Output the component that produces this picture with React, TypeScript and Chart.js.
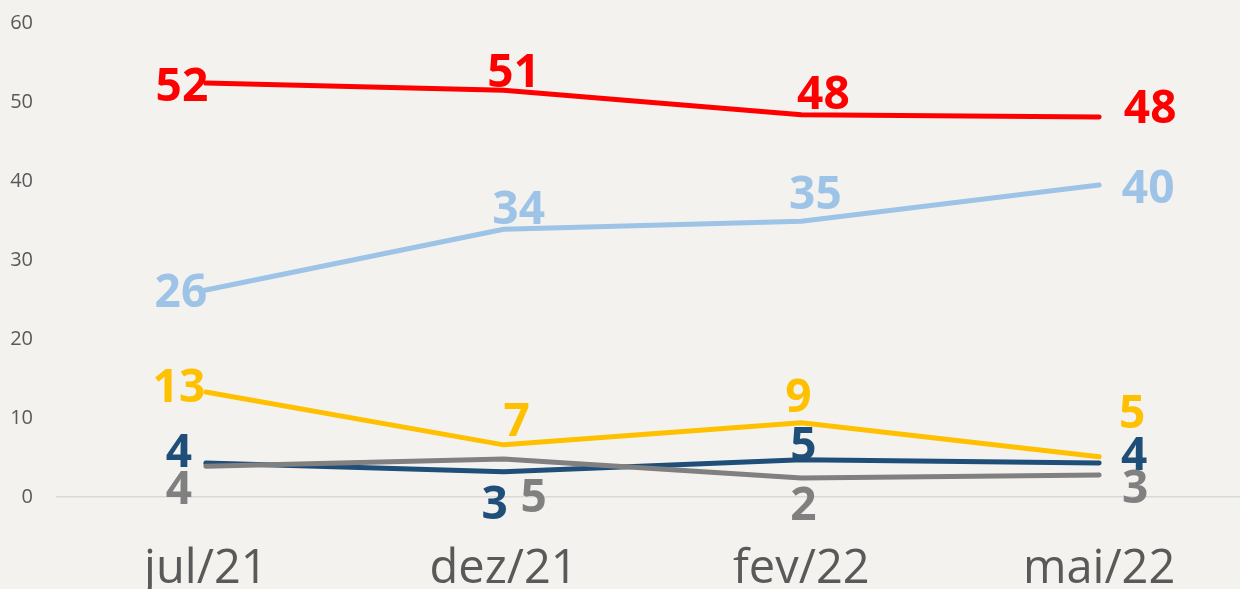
import React, { useEffect, useRef } from "react";
import { Chart, registerables } from "chart.js";
Chart.register(...registerables);

// ---- data ----
const categories = ["jul/21", "dez/21", "fev/22", "mai/22"];
const yTickValues = [0, 10, 20, 30, 40, 50, 60];

const redValues = [52.4, 51.5, 48.4, 48.1];
const redLabels = ["52", "51", "48", "48"];
const lightBlueValues = [26.2, 33.9, 34.9, 39.5];
const lightBlueLabels = ["26", "34", "35", "40"];
const yellowValues = [13.3, 6.6, 9.4, 5.1];
const yellowLabels = ["13", "7", "9", "5"];
const darkBlueValues = [4.3, 3.2, 4.7, 4.3];
const darkBlueLabels = ["4", "3", "5", "4"];
const grayValues = [3.9, 4.8, 2.4, 2.8];
const grayLabels = ["4", "5", "2", "3"];

// ---- styles ----
const COLORS = {
  red: "#FF0000",
  lightBlue: "#9DC3E6",
  yellow: "#FFC000",
  darkBlue: "#1F4E79",
  gray: "#808080",
};
// label centre offsets from the point (px)
const OFFSETS: Record<string, number[][]> = {
  red: [[-24, 2], [10, -20], [22, -22], [51, -10]],
  lightBlue: [[-25, 1], [15, -22], [14, -29], [49, 2]],
  yellow: [[-27, -6], [13, -25], [-3, -27], [33, -45]],
  darkBlue: [[-27, -12], [-9, 31], [2, -16], [35, -9]],
  gray: [[-27, 21], [30, 36], [2, 26], [36, 12]],
};
const LABEL_FONT_SIZE = 46;
const FONT = "'Open Sans', 'Noto Sans', sans-serif";

const seriesDefs = [
  { key: "red", values: redValues, labels: redLabels, order: 5 },
  { key: "lightBlue", values: lightBlueValues, labels: lightBlueLabels, order: 4 },
  { key: "yellow", values: yellowValues, labels: yellowLabels, order: 3 },
  { key: "darkBlue", values: darkBlueValues, labels: darkBlueLabels, order: 2 },
  { key: "gray", values: grayValues, labels: grayLabels, order: 1 },
];

const labelPlugin = {
  id: "valueLabels",
  afterDatasetsDraw(chart: any) {
    const ctx = chart.ctx;
    ctx.save();
    ctx.font = `bold ${LABEL_FONT_SIZE}px ${FONT}`;
    ctx.textAlign = "center";
    ctx.textBaseline = "alphabetic";
    chart.data.datasets.forEach((ds: any, i: number) => {
      const meta = chart.getDatasetMeta(i);
      const offs = OFFSETS[ds.seriesKey];
      ctx.fillStyle = ds.borderColor;
      meta.data.forEach((el: any, j: number) => {
        const [dx, dy] = offs[j];
        ctx.fillText(ds.valueLabels[j], el.x + dx, el.y + dy + LABEL_FONT_SIZE * 0.357);
      });
    });
    ctx.restore();
  },
};

export default function App() {
  const ref = useRef<HTMLCanvasElement>(null);
  useEffect(() => {
    if (!ref.current) return;
    const chart = new Chart(ref.current, {
      type: "line",
      data: {
        labels: categories,
        datasets: seriesDefs.map((s) => ({
          label: s.key,
          data: s.values,
          borderColor: (COLORS as any)[s.key],
          backgroundColor: (COLORS as any)[s.key],
          borderWidth: 5,
          borderCapStyle: "round",
          borderJoinStyle: "round",
          pointRadius: 0,
          pointHoverRadius: 0,
          tension: 0,
          order: s.order,
          seriesKey: s.key,
          valueLabels: s.labels,
        })) as any,
      },
      options: {
        animation: false,
        responsive: false,
        events: [],
        layout: { padding: { top: 23, right: 2, left: 0, bottom: 0 } },
        plugins: { legend: { display: false }, tooltip: { enabled: false } },
        scales: {
          x: {
            type: "category",
            offset: true,
            grid: { display: false, drawTicks: false },
            border: { display: true, color: "#D9D9D9", width: 1.5 },
            ticks: {
              color: "#595959",
              font: { family: FONT, size: 47 },
              padding: 44,
              maxRotation: 0,
              autoSkip: false,
            },
            afterFit: (s: any) => {
              s.height = 92;
              s.paddingLeft = 0;
              s.paddingRight = 0;
            },
          },
          y: {
            min: 0,
            max: 60,
            grid: { display: false, drawTicks: false },
            border: { display: false },
            ticks: {
              color: "#595959",
              font: { family: FONT, size: 20 },
              padding: 24,
            },
            afterBuildTicks: (s: any) => {
              s.ticks = yTickValues.map((v) => ({ value: v }));
            },
            afterFit: (s: any) => {
              s.width = 57;
              s.paddingTop = 0;
              s.paddingBottom = 0;
            },
          },
        },
      },
      plugins: [labelPlugin],
    });
    return () => chart.destroy();
  }, []);

  return (
    <div
      style={{
        position: "fixed",
        left: 0,
        top: 0,
        width: 1240,
        height: 589,
        overflow: "hidden",
        background: "#F3F2EF",
      }}
    >
      <canvas ref={ref} width={1250} height={589} style={{ display: "block", width: 1250, height: 589 }} />
    </div>
  );
}
